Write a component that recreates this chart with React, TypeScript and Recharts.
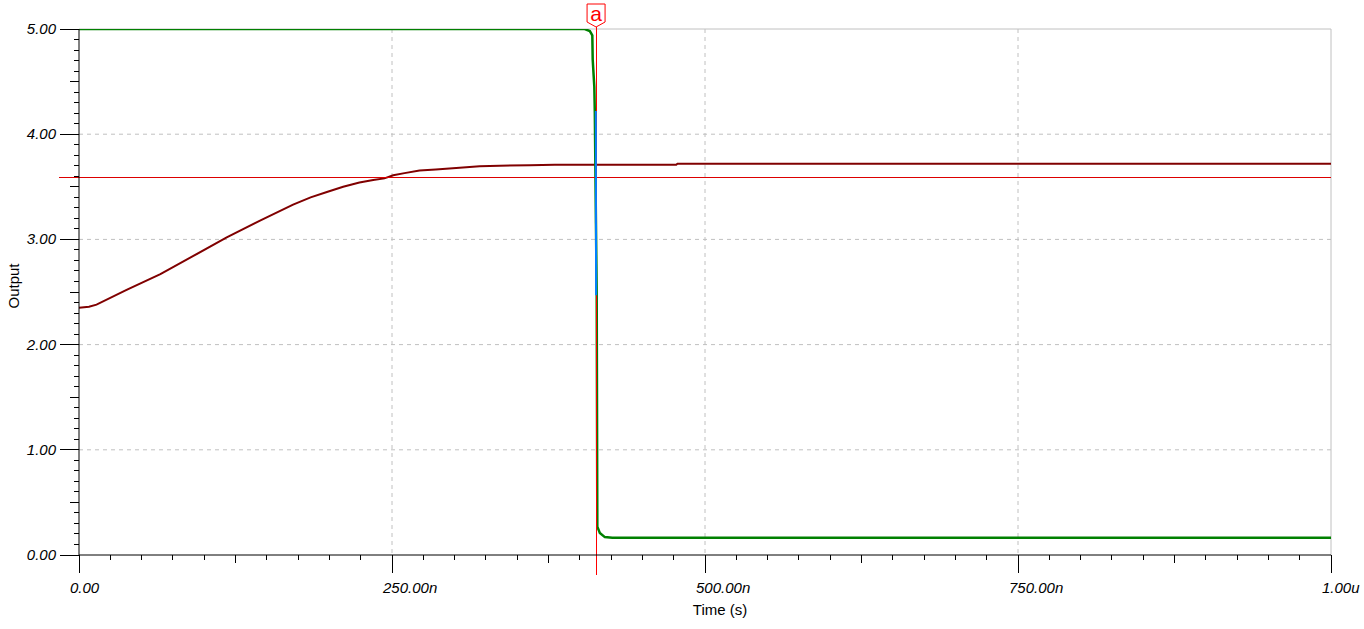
import React from 'react';
import {
  LineChart, Line, XAxis, YAxis, CartesianGrid, ReferenceLine, ReferenceDot,
} from 'recharts';

// time in ns, output in V
const rampTime = [0, 8, 14, 38, 65, 91, 118, 145, 171, 185, 198, 211, 224, 235, 244, 251, 260, 272, 285, 304, 320, 336, 360, 380, 413, 477, 478, 600, 800, 1000];
const rampValue = [2.35, 2.36, 2.38, 2.52, 2.67, 2.84, 3.02, 3.18, 3.33, 3.40, 3.45, 3.50, 3.54, 3.565, 3.58, 3.61, 3.63, 3.655, 3.665, 3.68, 3.695, 3.70, 3.705, 3.71, 3.71, 3.71, 3.72, 3.72, 3.72, 3.72];

const outTime = [0, 400, 404, 408, 410, 410.3, 411.6, 412, 413.5, 414, 416, 420, 426, 1000];
const outValue = [5.0, 5.0, 5.0, 4.98, 4.94, 4.71, 4.45, 4.2, 2.47, 0.27, 0.21, 0.17, 0.165, 0.165];

const edgeTime = [412.8, 413];
const edgeValue = [4.22, 2.47];

const cursorTime = 413;
const cursorLevel = 3.593;

const xMajor = [0, 250, 500, 750, 1000];
const xLabels = ['0.00', '250.00n', '500.00n', '750.00n', '1.00u'];
const yMajor = [0, 1, 2, 3, 4, 5];
const yLabels = ['0.00', '1.00', '2.00', '3.00', '4.00', '5.00'];

const xTicks = Array.from({ length: 41 }, (_, i) => i * 25);
const yTicks = Array.from({ length: 51 }, (_, i) => i / 10);

const ramp = rampTime.map((t, i) => ({ t, v: rampValue[i] }));
const out = outTime.map((t, i) => ({ t, v: outValue[i] }));
const edge = edgeTime.map((t, i) => ({ t, v: edgeValue[i] }));

const FONT = '"Liberation Sans", Arial, sans-serif';

const XTick = (props: any) => {
  const { x, y, payload } = props;
  const v = payload.value;
  const mi = xMajor.indexOf(v);
  const len = mi >= 0 ? 18 : v % 125 === 0 ? 8 : 5;
  return (
    <g>
      <line x1={x} x2={x} y1={y} y2={y + len} stroke="#000" shapeRendering="crispEdges" />
      {mi >= 0 && (
        <text x={x - 9} y={y + 38} textAnchor="start" fontSize={15} fontStyle="italic" fontFamily={FONT} fill="#000">
          {xLabels[mi]}
        </text>
      )}
    </g>
  );
};

const YTick = (props: any) => {
  const { x, y, payload } = props;
  const v = payload.value;
  const mi = yMajor.findIndex(m => Math.abs(m - v) < 1e-6);
  const half = Math.abs(v * 2 - Math.round(v * 2)) < 1e-6;
  const len = mi >= 0 ? 19 : half ? 9 : 5;
  return (
    <g>
      <line x1={x - len} x2={x} y1={y} y2={y} stroke="#000" shapeRendering="crispEdges" />
      {mi >= 0 && (
        <text x={x - 23} y={y} dy={5} textAnchor="end" fontSize={15} fontStyle="italic" fontFamily={FONT} fill="#000">
          {yLabels[mi]}
        </text>
      )}
    </g>
  );
};

const CursorMark = (props: any) => {
  const { cx, cy } = props;
  return (
    <g>
      <path
        d={`M${cx},${cy - 2} L${cx + 9},${cy - 7} L${cx + 9},${cy - 25} L${cx - 9},${cy - 25} L${cx - 9},${cy - 7} Z`}
        fill="#fff" stroke="#ff0000" strokeWidth={1}
      />
      <text x={cx} y={cy - 8} textAnchor="middle" fontSize={21} fontFamily={FONT} fill="#ff0000">a</text>
    </g>
  );
};

export default function App() {
  return (
    <div style={{ position: 'absolute', left: 0, top: 0 }}>
      <LineChart width={1364} height={629} margin={{ top: 29, right: 33, bottom: 0, left: 0 }}>
        <CartesianGrid
          stroke="#c0c0c0" strokeDasharray="4 4"
          horizontalValues={[1, 2, 3, 4]} verticalValues={[250, 500, 750]}
        />
        <ReferenceLine y={5} stroke="#c0c0c0" />
        <ReferenceLine x={1000} stroke="#c0c0c0" />
        <XAxis
          type="number" dataKey="t" domain={[0, 1000]} ticks={xTicks} interval={0}
          height={74} tickSize={0} tickMargin={0} tick={<XTick />}
          axisLine={{ stroke: '#000' }} allowDataOverflow
          label={(p: any) => {
            const vb = p.viewBox;
            return (
              <text x={vb.x + vb.width / 2 + 15} y={vb.y + 60} textAnchor="middle" fontSize={15} fontFamily={FONT} fill="#000">
                Time (s)
              </text>
            );
          }}
        />
        <YAxis
          type="number" domain={[0, 5]} ticks={yTicks} interval={0}
          width={79} tickSize={0} tickMargin={0} tick={<YTick />}
          axisLine={{ stroke: '#000' }} allowDataOverflow
          label={(p: any) => {
            const vb = p.viewBox;
            return (
              <text
                x={13} y={vb.y + vb.height / 2 - 6} textAnchor="middle" fontSize={15} fontFamily={FONT} fill="#000"
                transform={`rotate(-90, 13, ${vb.y + vb.height / 2 - 6})`} dominantBaseline="central"
              >
                Output
              </text>
            );
          }}
        />
        <Line data={ramp} dataKey="v" type="linear" stroke="#800000" strokeWidth={2} dot={false} isAnimationActive={false} />
        <Line data={out} dataKey="v" type="linear" stroke="#008000" strokeWidth={2.5} dot={false} isAnimationActive={false} />
        <ReferenceLine
          segment={[{ x: -16, y: cursorLevel }, { x: 1000, y: cursorLevel }]}
          stroke="#dd0000" ifOverflow="visible" shapeRendering="crispEdges"
        />
        <ReferenceLine
          segment={[{ x: cursorTime, y: -0.19 }, { x: cursorTime, y: 5.02 }]}
          stroke="#ff0000" ifOverflow="visible" shapeRendering="crispEdges"
        />
        <Line data={edge} dataKey="v" type="linear" stroke="#0080ff" strokeWidth={2} dot={false} isAnimationActive={false} />
        <ReferenceDot x={cursorTime} y={5} ifOverflow="visible" shape={<CursorMark />} />
      </LineChart>
    </div>
  );
}
